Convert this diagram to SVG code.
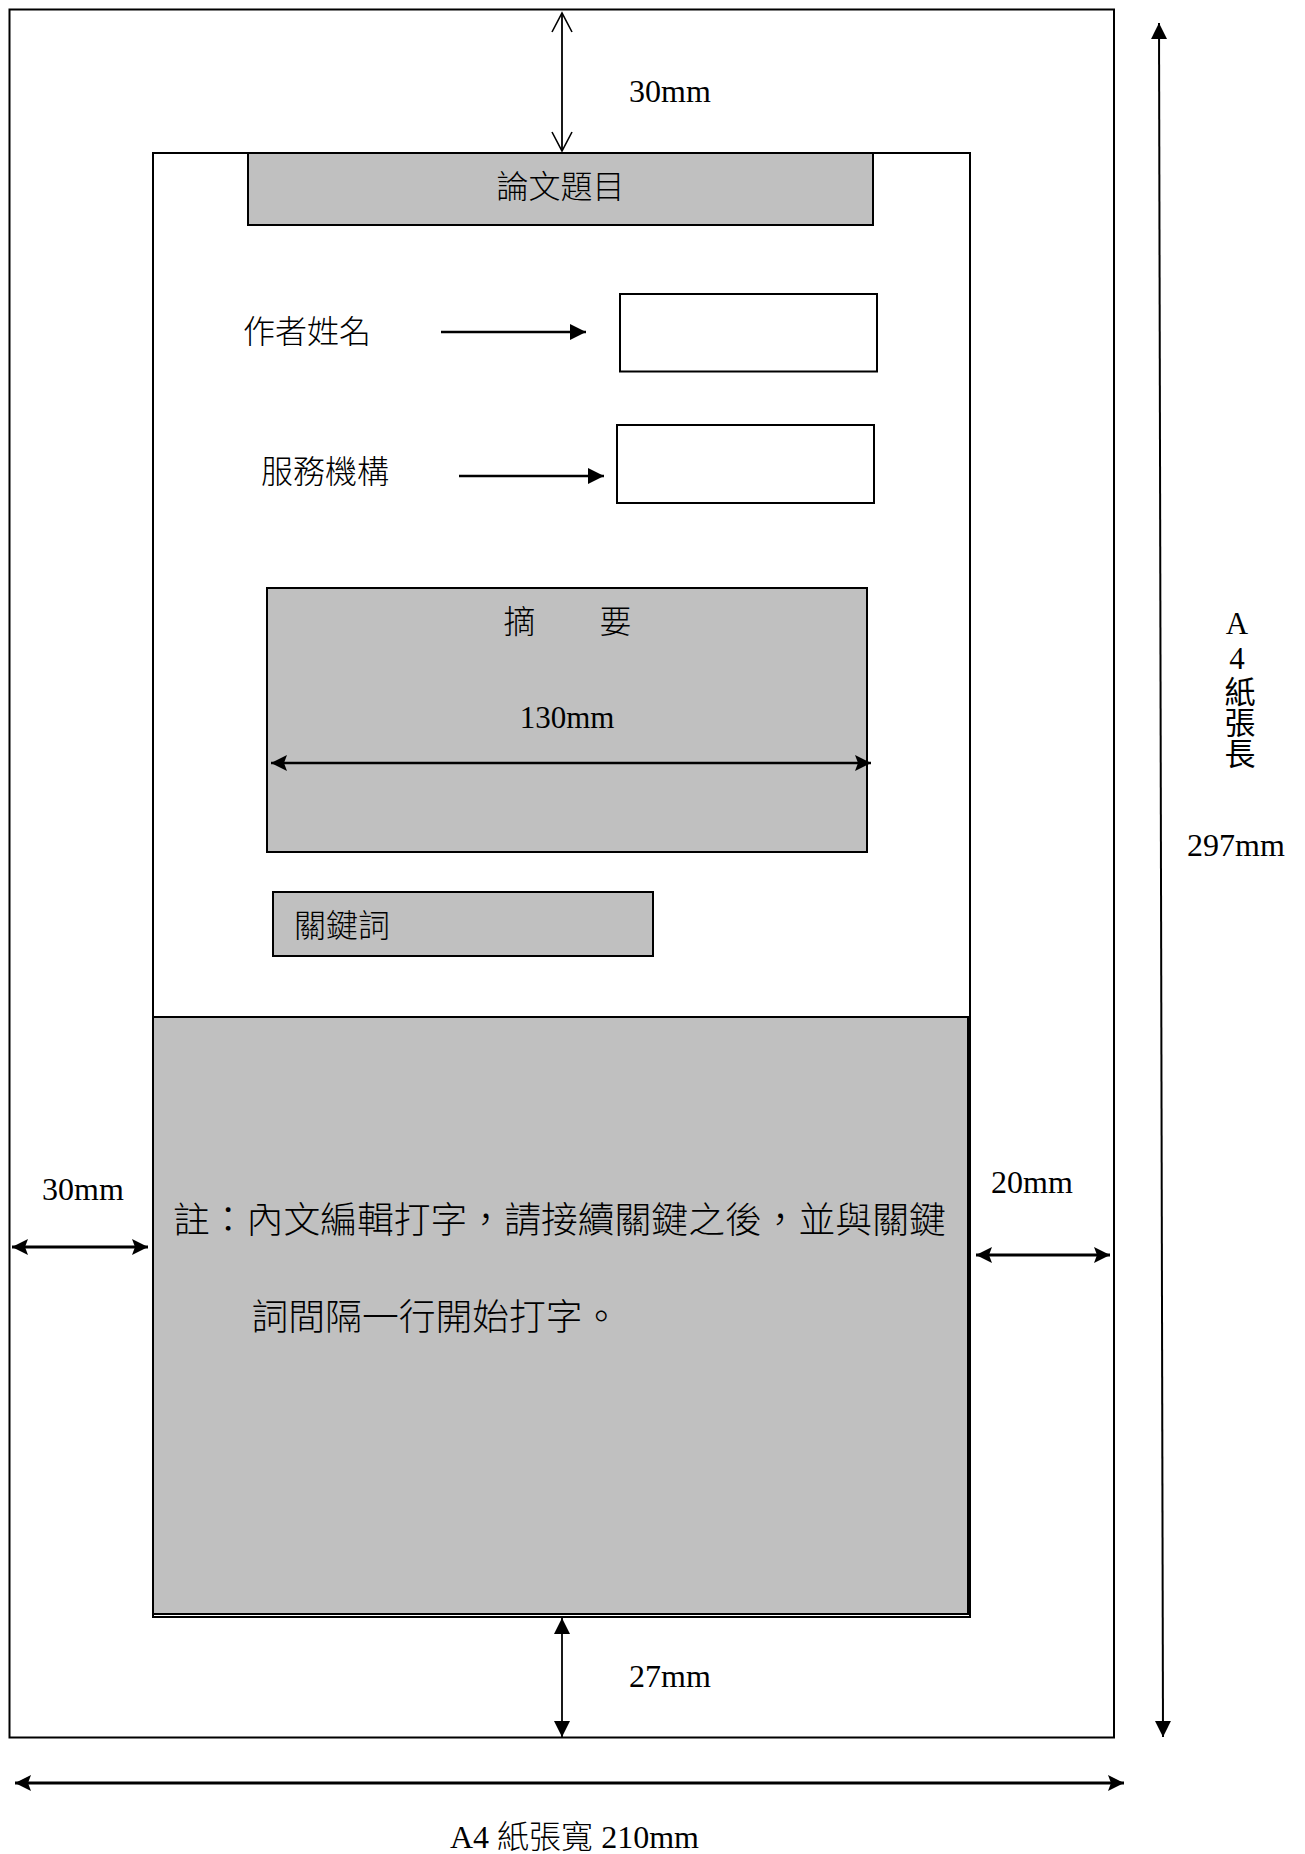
<svg xmlns="http://www.w3.org/2000/svg" width="1305" height="1854" viewBox="0 0 1305 1854">
<style>
.lat{font-family:"Liberation Serif","Noto Sans CJK TC",serif;font-size:32px;fill:#000}
.cjk{font-family:"Noto Sans CJK TC","Noto Sans CJK SC",sans-serif;font-size:32px;font-weight:300;fill:#000}
.vert{writing-mode:vertical-rl;text-orientation:upright;font-family:"Liberation Serif","Noto Sans CJK TC",serif;font-size:31px;fill:#000}
.gray{fill:#c0c0c0;stroke:#000;stroke-width:2}
.white{fill:#fff;stroke:#000;stroke-width:2}
.ln{stroke:#000;fill:none}
</style>
<defs>
<marker id="fa" markerUnits="userSpaceOnUse" markerWidth="18" markerHeight="16" refX="16" refY="8" orient="auto-start-reverse" viewBox="0 0 18 16">
<path d="M0,0 L16,8 L0,16 Z" fill="#000"/>
</marker>
<marker id="fb" markerUnits="userSpaceOnUse" markerWidth="18" markerHeight="18" refX="16" refY="9" orient="auto-start-reverse" viewBox="0 0 18 18">
<path d="M0,1 L16,9 L0,17 L3,9 Z" fill="#000"/>
</marker>
<marker id="oa" markerUnits="userSpaceOnUse" markerWidth="22" markerHeight="22" refX="20" refY="11" orient="auto-start-reverse" viewBox="0 0 22 22">
<path d="M1,1 L20,11 L1,21" fill="none" stroke="#000" stroke-width="1.6"/>
</marker>
</defs>
<rect width="1305" height="1854" fill="#fff"/>

<g id="page">
<rect x="9.5" y="9.5" width="1104.5" height="1728" class="white"/>
</g>
<g id="margin-area">
<rect x="153" y="153" width="817" height="1464" class="white"/>
</g>
<g id="title">
<rect x="248" y="153" width="625" height="72" class="gray"/>
<text x="560.5" y="198" class="cjk" text-anchor="middle">論文題目</text>
</g>
<g id="author-label">
<text x="243" y="343" class="cjk">作者姓名</text>
</g>
<g id="author-box">
<rect x="620" y="294" width="257" height="77.5" class="white"/>
</g>
<g id="institution-label">
<text x="261" y="483" class="cjk">服務機構</text>
</g>
<g id="institution-box">
<rect x="617" y="425" width="257" height="78" class="white"/>
</g>
<g id="abstract">
<rect x="267" y="588" width="600" height="264" class="gray"/>
<text x="503.5" y="633" class="cjk">摘　　要</text>
<text x="567" y="728" class="lat" style="font-size:31px" text-anchor="middle">130mm</text>
</g>
<g id="keywords">
<rect x="273" y="892" width="380" height="64" class="gray"/>
<text x="294" y="937" class="cjk">關鍵詞</text>
</g>
<g id="body">
<rect x="153" y="1017" width="815" height="597" class="gray"/>
<text x="173" y="1233" class="cjk" style="font-size:36.8px">註：內文編輯打字，請接續關鍵之後，並與關鍵</text>
<text x="251.5" y="1330" class="cjk" style="font-size:36.8px">詞間隔一行開始打字。</text>
</g>
<g id="labels">
<text x="629" y="102" class="lat">30mm</text>
<text x="629" y="1687" class="lat">27mm</text>
<text x="42" y="1200" class="lat">30mm</text>
<text x="991" y="1193" class="lat">20mm</text>
<text x="1187" y="856" class="lat">297mm</text>
<text x="1237" y="606" class="vert">A4紙張長</text>
<text x="450" y="1848" class="lat">A4 <tspan class="cjk">紙張寬</tspan> 210mm</text>
</g>

<g id="connectors">
<line x1="562" y1="13" x2="562" y2="151" class="ln" stroke-width="1.8" marker-start="url(#oa)" marker-end="url(#oa)"/>
<line x1="562" y1="1618" x2="562" y2="1737" class="ln" stroke-width="1.8" marker-start="url(#fa)" marker-end="url(#fa)"/>
<line x1="1159" y1="23" x2="1163" y2="1737" class="ln" stroke-width="2" marker-start="url(#fa)" marker-end="url(#fa)"/>
<line x1="15" y1="1783" x2="1124" y2="1783" class="ln" stroke-width="3" marker-start="url(#fb)" marker-end="url(#fb)"/>
<line x1="12" y1="1247" x2="148" y2="1247" class="ln" stroke-width="3" marker-start="url(#fb)" marker-end="url(#fb)"/>
<line x1="976" y1="1255" x2="1110" y2="1255" class="ln" stroke-width="3" marker-start="url(#fb)" marker-end="url(#fb)"/>
<line x1="271" y1="763" x2="871" y2="763" class="ln" stroke-width="2.5" marker-start="url(#fb)" marker-end="url(#fb)"/>
<line x1="441" y1="332" x2="586" y2="332" class="ln" stroke-width="2.5" marker-end="url(#fa)"/>
<line x1="459" y1="476" x2="604" y2="476" class="ln" stroke-width="2.5" marker-end="url(#fa)"/>
</g>
</svg>
